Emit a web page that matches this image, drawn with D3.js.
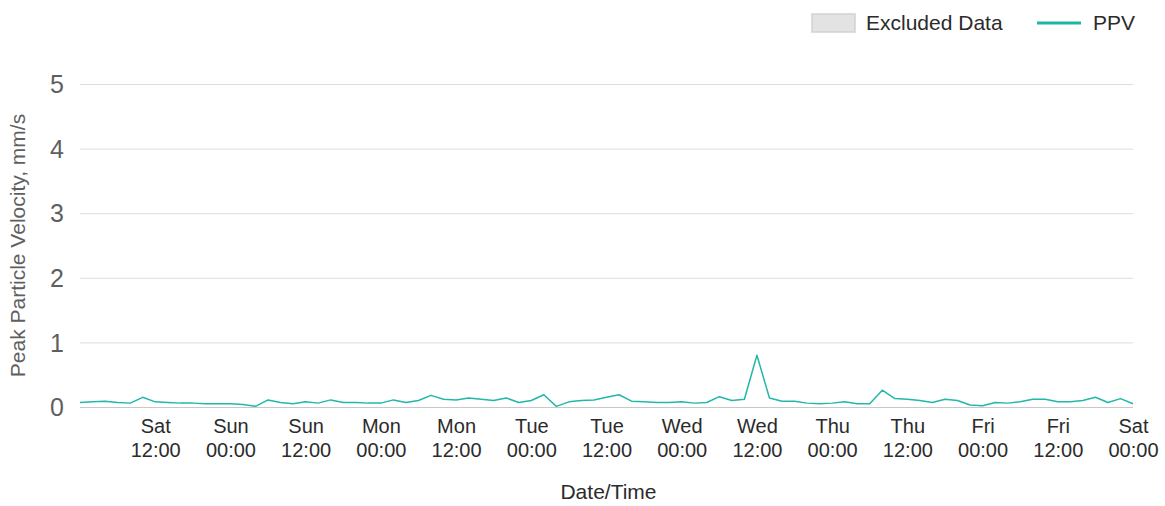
<!DOCTYPE html>
<html>
<head>
<meta charset="utf-8">
<script src="https://cdn.jsdelivr.net/npm/d3@7"></script>
<style>
  html, body { margin: 0; padding: 0; background: #fff; }
  svg { display: block; font-family: "Liberation Sans", Arial, sans-serif; }
</style>
</head>
<body>
<svg id="chart" width="1165" height="506"></svg>
<script>
// PPV readings, one every 2 hours across the week (hours from Saturday 00:00)
const hours = d3.range(0, 169, 2);
const ppv = [
  0.07, 0.08, 0.09, 0.07, 0.06, 0.15, 0.08, 0.07, 0.06, 0.06,
  0.05, 0.05, 0.05, 0.04, 0.01, 0.11, 0.07, 0.05, 0.08, 0.06,
  0.11, 0.07, 0.07, 0.06, 0.06, 0.11, 0.07, 0.10, 0.18, 0.12,
  0.11, 0.14, 0.12, 0.10, 0.14, 0.07, 0.10, 0.19, 0.01, 0.08,
  0.10, 0.11, 0.15, 0.19, 0.09, 0.08, 0.07, 0.07, 0.08, 0.06,
  0.07, 0.16, 0.10, 0.12, 0.80, 0.14, 0.09, 0.09, 0.06, 0.05,
  0.06, 0.08, 0.05, 0.05, 0.26, 0.13, 0.12, 0.10, 0.07, 0.12,
  0.10, 0.03, 0.02, 0.07, 0.06, 0.08, 0.12, 0.12, 0.08, 0.08,
  0.10, 0.15, 0.07, 0.13, 0.05
];

// Axis labels
const xTickDays  = ["Sat", "Sun", "Sun", "Mon", "Mon", "Tue", "Tue", "Wed", "Wed", "Thu", "Thu", "Fri", "Fri", "Sat"];
const xTickTimes = ["12:00", "00:00", "12:00", "00:00", "12:00", "00:00", "12:00", "00:00", "12:00", "00:00", "12:00", "00:00", "12:00", "00:00"];
const yTicks = [0, 1, 2, 3, 4, 5];
const legendLabels = ["Excluded Data", "PPV"];

const start = new Date(2021, 0, 2, 0, 0); // a Saturday
const hourMs = 3600 * 1000;
const data = hours.map((h, i) => ({ t: new Date(start.getTime() + h * hourMs), v: ppv[i] }));
const tickDates = xTickDays.map((d, i) => new Date(start.getTime() + (i + 1) * 12 * hourMs));

const svg = d3.select("#chart");
const plotLeft = 80, plotRight = 1133, plotTop = 84, plotBottom = 407;

const x = d3.scaleTime()
  .domain([start, new Date(start.getTime() + 168 * hourMs)])
  .range([plotLeft, plotRight]);
const y = d3.scaleLinear().domain([0, 5]).range([plotBottom, plotTop]);

// Horizontal gridlines
svg.append("g")
  .selectAll("line")
  .data(yTicks)
  .join("line")
  .attr("x1", plotLeft).attr("x2", plotRight)
  .attr("y1", d => y(d) + 0.5).attr("y2", d => y(d) + 0.5)
  .attr("stroke", d => d === 0 ? "#c8c8c8" : "#dedede")
  .attr("stroke-width", 1);

// Y axis tick labels
const yAxis = d3.axisLeft(y).tickValues(yTicks).tickFormat(d3.format("d")).tickSize(0).tickPadding(0);
svg.append("g")
  .attr("transform", `translate(${plotLeft - 16},0)`)
  .call(yAxis)
  .call(g => g.select(".domain").remove())
  .call(g => g.selectAll("text")
    .attr("font-size", 25)
    .attr("font-family", "Liberation Sans, Arial, sans-serif")
    .attr("fill", "#5f5f5f")
    .attr("dy", "0.35em"));

// X axis with two-line labels
const xAxis = d3.axisBottom(x).tickValues(tickDates).tickSize(0).tickFormat(() => "");
const xg = svg.append("g")
  .attr("transform", `translate(0,${plotBottom})`)
  .call(xAxis)
  .call(g => g.select(".domain").remove());
xg.selectAll(".tick").each(function (d, i) {
  const t = d3.select(this).select("text")
    .attr("font-size", 20)
    .attr("font-family", "Liberation Sans, Arial, sans-serif")
    .attr("fill", "#2b2b2b")
    .attr("y", 0)
    .attr("dy", null);
  t.append("tspan").attr("x", 0).attr("y", 26).text(xTickDays[i]);
  t.append("tspan").attr("x", 0).attr("y", 50).text(xTickTimes[i]);
});

// PPV line
const line = d3.line().x(d => x(d.t)).y(d => y(d.v));
svg.append("path")
  .datum(data)
  .attr("d", line)
  .attr("fill", "none")
  .attr("stroke", "#22b8a7")
  .attr("stroke-width", 1.5)
  .attr("stroke-linejoin", "round");

// Axis titles
svg.append("text")
  .attr("transform", `translate(25,${(plotTop + plotBottom) / 2}) rotate(-90)`)
  .attr("text-anchor", "middle")
  .attr("font-size", 21)
  .attr("fill", "#5f5f5f")
  .text("Peak Particle Velocity, mm/s");

svg.append("text")
  .attr("x", (plotLeft + plotRight) / 2 + 2)
  .attr("y", 499)
  .attr("text-anchor", "middle")
  .attr("font-size", 21)
  .attr("fill", "#2b2b2b")
  .text("Date/Time");

// Legend
const legend = svg.append("g");
legend.append("rect")
  .attr("x", 812).attr("y", 14).attr("width", 43).attr("height", 18)
  .attr("fill", "#e3e3e3").attr("stroke", "#d2d2d2").attr("stroke-width", 1.5);
legend.append("text")
  .attr("x", 866).attr("y", 30)
  .attr("font-size", 21).attr("fill", "#2b2b2b")
  .text(legendLabels[0]);
legend.append("line")
  .attr("x1", 1037).attr("x2", 1081).attr("y1", 23).attr("y2", 23)
  .attr("stroke", "#1fb5a5").attr("stroke-width", 3);
legend.append("text")
  .attr("x", 1093).attr("y", 30)
  .attr("font-size", 21).attr("fill", "#2b2b2b")
  .text(legendLabels[1]);
</script>
</body>
</html>
